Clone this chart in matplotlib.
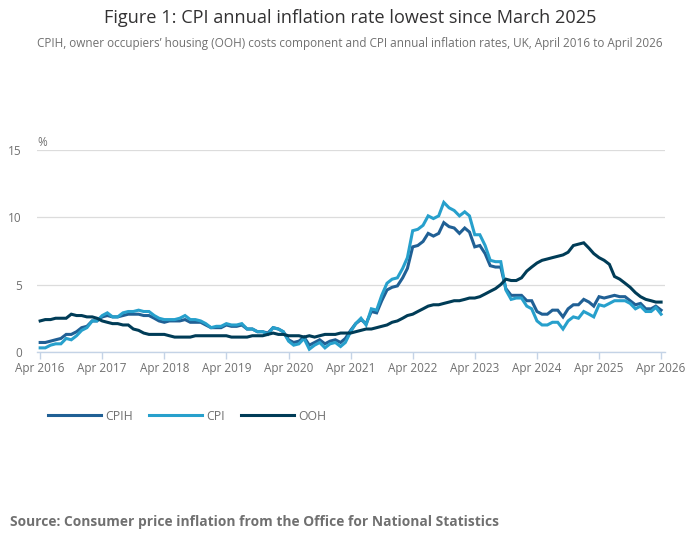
import numpy as np
import pandas as pd
import matplotlib
matplotlib.use("Agg")
import matplotlib.pyplot as plt
import matplotlib.dates as mdates

# ── Data: monthly annual rates, Apr 2016 to Apr 2026 ───────────────
months = pd.date_range("2016-04-01", "2026-04-01", freq="MS")

cpih = [
    0.7, 0.7, 0.8, 0.9, 1.0, 1.3, 1.3, 1.5, 1.8,                  # 2016
    1.9, 2.3, 2.3, 2.6, 2.7, 2.6, 2.6, 2.7, 2.8, 2.8, 2.8, 2.7,  # 2017
    2.7, 2.5, 2.3, 2.2, 2.3, 2.3, 2.3, 2.4, 2.2, 2.2, 2.2, 2.0,  # 2018
    1.8, 1.8, 1.8, 2.0, 1.9, 1.9, 2.0, 1.7, 1.7, 1.5, 1.5, 1.4,  # 2019
    1.8, 1.7, 1.5, 0.9, 0.7, 0.8, 1.1, 0.5, 0.7, 0.9, 0.6, 0.8,  # 2020
    0.9, 0.7, 1.0, 1.6, 2.1, 2.4, 2.1, 3.0, 2.9, 3.8, 4.6, 4.8,  # 2021
    4.9, 5.5, 6.2, 7.8, 7.9, 8.2, 8.8, 8.6, 8.8, 9.6, 9.3, 9.2,  # 2022
    8.8, 9.2, 8.9, 7.8, 7.9, 7.3, 6.4, 6.3, 6.3, 4.7, 4.2, 4.2,  # 2023
    4.2, 3.8, 3.8, 3.0, 2.8, 2.8, 3.1, 3.1, 2.6, 3.2, 3.5, 3.5,  # 2024
    3.9, 3.7, 3.4, 4.1, 4.0, 4.1, 4.2, 4.1, 4.1, 3.8, 3.5, 3.6,  # 2025
    3.2, 3.2, 3.4, 3.1,                                          # 2026
]

cpi = [
    0.3, 0.3, 0.5, 0.6, 0.6, 1.0, 0.9, 1.2, 1.6,
    1.8, 2.3, 2.3, 2.7, 2.9, 2.6, 2.6, 2.9, 3.0, 3.0, 3.1, 3.0,
    3.0, 2.7, 2.5, 2.4, 2.4, 2.4, 2.5, 2.7, 2.4, 2.4, 2.3, 2.1,
    1.8, 1.9, 1.9, 2.1, 2.0, 2.0, 2.1, 1.7, 1.7, 1.5, 1.5, 1.3,
    1.8, 1.7, 1.5, 0.8, 0.5, 0.6, 1.0, 0.2, 0.5, 0.7, 0.3, 0.6,
    0.7, 0.4, 0.7, 1.5, 2.1, 2.5, 2.0, 3.2, 3.1, 4.2, 5.1, 5.4,
    5.5, 6.2, 7.0, 9.0, 9.1, 9.4, 10.1, 9.9, 10.1, 11.1, 10.7, 10.5,
    10.1, 10.4, 10.1, 8.7, 8.7, 7.9, 6.8, 6.7, 6.7, 4.6, 3.9, 4.0,
    4.0, 3.4, 3.2, 2.3, 2.0, 2.0, 2.2, 2.2, 1.7, 2.3, 2.6, 2.5,
    3.0, 2.8, 2.6, 3.5, 3.4, 3.6, 3.8, 3.8, 3.8, 3.6, 3.2, 3.4,
    3.0, 3.0, 3.3, 2.8,
]

ooh = [
    2.3, 2.4, 2.4, 2.5, 2.5, 2.5, 2.8, 2.7, 2.7,
    2.6, 2.6, 2.5, 2.3, 2.2, 2.1, 2.1, 2.0, 2.0, 1.7, 1.6, 1.4,
    1.3, 1.3, 1.3, 1.3, 1.2, 1.1, 1.1, 1.1, 1.1, 1.2, 1.2, 1.2,
    1.2, 1.2, 1.2, 1.2, 1.1, 1.1, 1.1, 1.1, 1.2, 1.2, 1.2, 1.3,
    1.4, 1.3, 1.3, 1.2, 1.2, 1.2, 1.1, 1.2, 1.1, 1.2, 1.3, 1.3,
    1.3, 1.4, 1.4, 1.4, 1.5, 1.6, 1.7, 1.7, 1.8, 1.9, 2.0, 2.2,
    2.3, 2.5, 2.7, 2.8, 3.0, 3.2, 3.4, 3.5, 3.5, 3.6, 3.7, 3.8,
    3.8, 3.9, 4.0, 4.0, 4.1, 4.3, 4.5, 4.7, 5.0, 5.4, 5.3, 5.3,
    5.5, 6.0, 6.3, 6.6, 6.8, 6.9, 7.0, 7.1, 7.2, 7.4, 7.9, 8.0,
    8.1, 7.7, 7.3, 7.0, 6.8, 6.5, 5.6, 5.4, 5.1, 4.8, 4.4, 4.1,
    3.9, 3.8, 3.7, 3.7,
]

series_names = ["CPIH", "CPI", "OOH"]
series_colors = ["#206095", "#27a0cc", "#003c57"]
y_ticks = [0, 5, 10, 15]

# ── Figure ──────────────────────────────────────────────────────────
plt.rcParams["font.family"] = ["Open Sans", "DejaVu Sans"]
grey = "#707070"
axis_blue = "#c4d3e6"

fig = plt.figure(figsize=(7.0, 5.49), dpi=100)
ax = fig.add_axes([0.053, 0.359, 0.897, 0.368])

for vals, name, col in zip([cpih, cpi, ooh], series_names, series_colors):
    ax.plot(months, vals, color=col, linewidth=2.2, label=name,
            solid_joinstyle="miter")

# axes limits & ticks
x0 = pd.Timestamp("2016-04-01")
x1 = pd.Timestamp("2026-04-01")
ax.set_xlim(x0 - pd.Timedelta(days=18), x1 + pd.Timedelta(days=23))
ax.set_ylim(0, 15)
ax.set_yticks(y_ticks)
ax.set_xticks(pd.date_range(x0, x1, freq="12MS"))
ax.xaxis.set_major_formatter(mdates.DateFormatter("%b %Y"))

ax.tick_params(axis="y", length=0, pad=11, labelsize=8.5, labelcolor=grey)
ax.tick_params(axis="x", length=5, width=1, color=axis_blue, pad=2,
               labelsize=8.5, labelcolor=grey)

ax.grid(axis="y", color="#dcdcdc", linewidth=0.9)
ax.set_axisbelow(True)
for s in ["top", "right", "left"]:
    ax.spines[s].set_visible(False)
ax.spines["bottom"].set_color(axis_blue)
ax.spines["bottom"].set_linewidth(1.0)

ax.text(0.0, 1.005, "%", transform=ax.transAxes, fontsize=8.5, color=grey,
        ha="left", va="bottom")

# titles
fig.text(0.5, 0.967, "Figure 1: CPI annual inflation rate lowest since March 2025",
         ha="center", va="center", fontsize=13.1, color="#323132")
fig.text(0.5, 0.920,
         "CPIH, owner occupiers\u2019 housing (OOH) costs component and CPI annual "
         "inflation rates, UK, April 2016 to April 2026",
         ha="center", va="center", fontsize=8.45, color=grey)

# legend
fig.legend(loc="center left", bbox_to_anchor=(0.053, 0.242), ncol=3,
           frameon=False, fontsize=8.8, handlelength=4.3, handletextpad=0.4,
           columnspacing=1.3, labelcolor=grey)

# source
fig.text(0.014, 0.049,
         "Source: Consumer price inflation from the Office for National Statistics",
         ha="left", va="center", fontsize=9.9, fontweight="bold", color=grey)

fig.savefig("out.png", dpi=100)
